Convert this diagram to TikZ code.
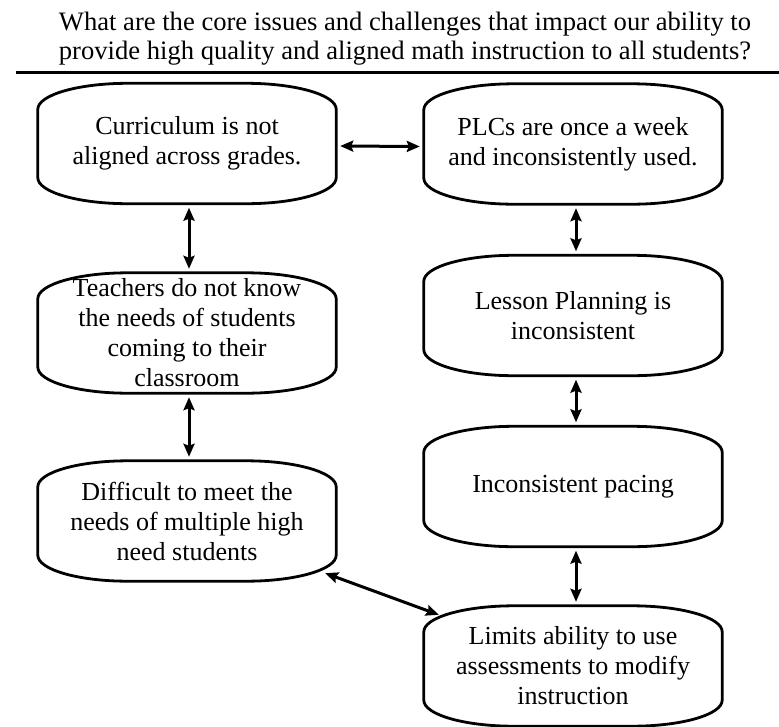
\documentclass[tikz,border=0pt]{standalone}
\usepackage{fontspec}
\setmainfont{Liberation Serif}
\usetikzlibrary{arrows.meta}

% Issue box: an invisible rectangle that carries the text; its outline,
% with wide elliptical corners, is traced afterwards by \issueoutline.
\tikzset{
  issue/.style={rectangle, minimum width=298pt, minimum height=120pt,
    inner sep=0pt, align=center,
    font=\fontsize{26}{30}\selectfont},
  outline/.style={line width=2.8pt, line join=round},
  link/.style={line width=3pt,
    {Stealth[length=13pt,width=11pt,inset=2pt]}-{Stealth[length=13pt,width=11pt,inset=2pt]},
    shorten <=4pt, shorten >=4pt},
  heading/.style={align=center, font=\fontsize{26.6}{29}\selectfont}
}

\newcommand\issueoutline[1]{%
  \draw[outline]
    ([xshift=90pt]#1.north west) -- ([xshift=-90pt]#1.north east)
    arc[start angle=90, end angle=0, x radius=90pt, y radius=26pt]
    -- ([yshift=26pt]#1.south east)
    arc[start angle=0, end angle=-90, x radius=90pt, y radius=26pt]
    -- ([xshift=90pt]#1.south west)
    arc[start angle=270, end angle=180, x radius=90pt, y radius=26pt]
    -- ([yshift=-26pt]#1.north west)
    arc[start angle=180, end angle=90, x radius=90pt, y radius=26pt]
    -- cycle;}

\begin{document}
\begin{tikzpicture}[x=1pt, y=1pt]
  \useasboundingbox (0,-726) rectangle (779,0);

  % question and rule
  \node[heading] (question) at (405,-39)
    {What are the core issues and challenges that impact our ability to\\
     provide high quality and aligned math instruction to all students?};
  \coordinate (ruleL) at (16,-72);
  \coordinate (ruleR) at (779,-72);
  \draw[line width=3pt] (ruleL) -- (ruleR);

  % left column
  \node[issue] (curr) at (187,-143.5) {Curriculum is not\\aligned across grades.};
  \node[issue] (teach) at (187,-333) {Teachers do not know\\the needs of students\\coming to their\\classroom};
  \node[issue] (diff) at (187,-521) {Difficult to meet the\\needs of multiple high\\need students};

  % right column
  \node[issue] (plc) at (573,-144) {PLCs are once a week\\and inconsistently used.};
  \node[issue] (lesson) at (573,-315.5) {Lesson Planning is\\inconsistent};
  \node[issue] (pacing) at (573,-486.5) {Inconsistent pacing};
  \node[issue] (limits) at (573,-666) {Limits ability to use\\assessments to modify\\instruction};

  \foreach \b in {curr,teach,diff,plc,lesson,pacing,limits}
    \issueoutline{\b};

  % connectors
  \draw[link] ([yshift=-2.5pt]curr.east) -- ([yshift=-2.5pt]plc.west);
  \draw[link] ([xshift=2pt]curr.south) -- ([xshift=2pt]teach.north);
  \draw[link] ([xshift=2pt]teach.south) -- ([xshift=2pt]diff.north);
  \draw[link] ([xshift=3pt]plc.south) -- ([xshift=3pt]lesson.north);
  \draw[link] ([xshift=3pt]lesson.south) -- ([xshift=3pt]pacing.north);
  \draw[link] ([xshift=3pt]pacing.south) -- ([xshift=3pt]limits.north);
  \draw[link, shorten <=0pt, shorten >=0pt]
    ([xshift=-11pt,yshift=8pt]diff.south east) -- ([xshift=15pt,yshift=-9pt]limits.north west);
\end{tikzpicture}
\end{document}
